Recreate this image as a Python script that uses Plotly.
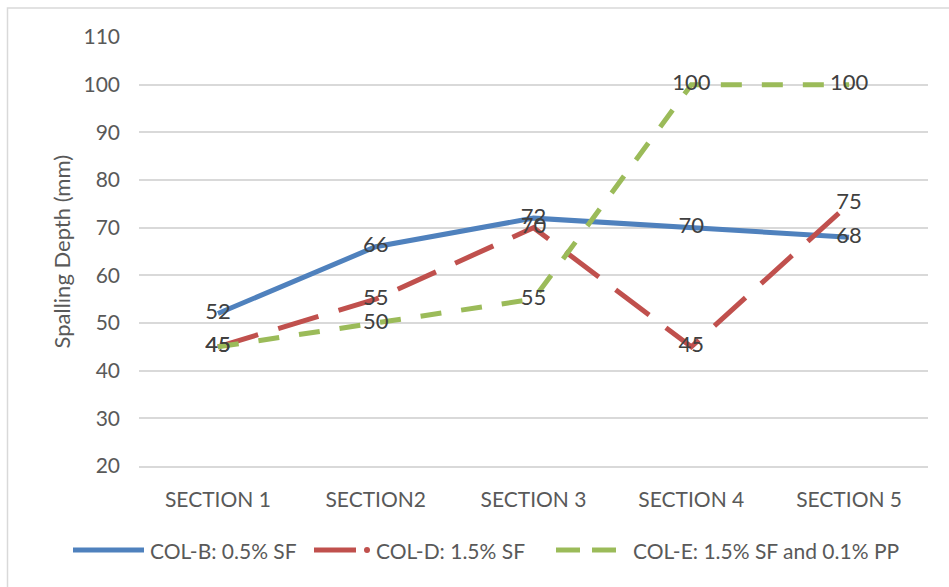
import plotly.graph_objects as go

# Spalling depth per column section
sections = ["SECTION 1", "SECTION2", "SECTION 3", "SECTION 4", "SECTION 5"]
col_b = [52, 66, 72, 70, 68]
col_d = [45, 55, 70, 45, 75]
col_e = [45, 50, 55, 100, 100]
series_names = ["COL-B: 0.5% SF", "COL-D: 1.5% SF", "COL-E: 1.5% SF and 0.1% PP"]
y_ticks = [20, 30, 40, 50, 60, 70, 80, 90, 100, 110]

BLUE = "#4F81BD"
RED = "#C0504D"
GREEN = "#9BBB59"
FONT = "Lato, Carlito, Calibri, sans-serif"
GRID = "#D9D9D9"

W, H = 949, 587
L, R, T, B = 139, 21, 37, 121
PW, PH = W - L - R, H - T - B


def px(xp):
    return (xp - L) / PW


def py(yp):
    return (H - B - yp) / PH


fig = go.Figure()

styles = [
    (col_b, BLUE, "solid"),
    (col_d, RED, "42px,21px"),
    (col_e, GREEN, "21px,20px"),
]
for vals, color, dash in styles:
    fig.add_trace(go.Scatter(
        x=sections, y=vals, mode="lines",
        line=dict(color=color, width=5, dash=dash),
        showlegend=False, hoverinfo="skip",
    ))

# value labels centred on each point, drawn above all lines
for vals, _, _ in styles:
    fig.add_trace(go.Scatter(
        x=sections, y=vals, mode="text", text=[str(v) for v in vals],
        textposition="middle center",
        textfont=dict(family=FONT, size=22, color="#404040"),
        showlegend=False, hoverinfo="skip",
    ))

fig.update_layout(
    width=W, height=H,
    margin=dict(l=L, r=R, t=T, b=B),
    paper_bgcolor="white", plot_bgcolor="white",
    font=dict(family=FONT, color="#595959"),
    xaxis=dict(
        type="category", range=[-0.5, 4.5], showgrid=False, showline=True,
        linecolor=GRID, linewidth=1.5,
        tickfont=dict(family=FONT, size=21, color="#595959"),
        ticks="", ticklabelstandoff=14, zeroline=False,
    ),
    yaxis=dict(
        range=[20, 110], tickvals=y_ticks, showgrid=True, gridcolor=GRID, gridwidth=1.5,
        zeroline=False, showline=False,
        tickfont=dict(family=FONT, size=21, color="#595959"),
        ticks="", ticklabelstandoff=18,
    ),
    showlegend=False,
)

annotations = [
    dict(text="Spalling Depth (mm)", textangle=-90, xref="paper", yref="paper",
         x=px(61), y=0.5, showarrow=False, xanchor="center", yanchor="middle",
         font=dict(family=FONT, size=22, color="#595959")),
]

shapes = [
    # chart frame (right and bottom edges fall outside the canvas)
    dict(type="rect", xref="paper", yref="paper", x0=px(7.5), y0=py(H + 20),
         x1=px(W + 20), y1=py(8), line=dict(color=GRID, width=1.5), layer="below"),
]

# legend row
ly = py(550)
shapes.append(dict(type="line", xref="paper", yref="paper", x0=px(73), x1=px(144),
                   y0=ly, y1=ly, line=dict(color=BLUE, width=5)))
shapes.append(dict(type="line", xref="paper", yref="paper", x0=px(314), x1=px(356),
                   y0=ly, y1=ly, line=dict(color=RED, width=5)))
shapes.append(dict(type="circle", xref="paper", yref="paper",
                   x0=px(364), x1=px(370), y0=py(553), y1=py(547),
                   fillcolor=RED, line=dict(color=RED, width=0)))
for a, b in [(556, 580), (592, 616)]:
    shapes.append(dict(type="line", xref="paper", yref="paper", x0=px(a), x1=px(b),
                       y0=ly, y1=ly, line=dict(color=GREEN, width=5)))

for name, xs in zip(series_names, [148, 374, 631]):
    annotations.append(dict(text=name, xref="paper", yref="paper", x=px(xs), y=ly,
                            showarrow=False, xanchor="left", yanchor="middle",
                            font=dict(family=FONT, size=21, color="#595959")))

fig.update_layout(annotations=annotations, shapes=shapes)

fig.write_html("out.html")
